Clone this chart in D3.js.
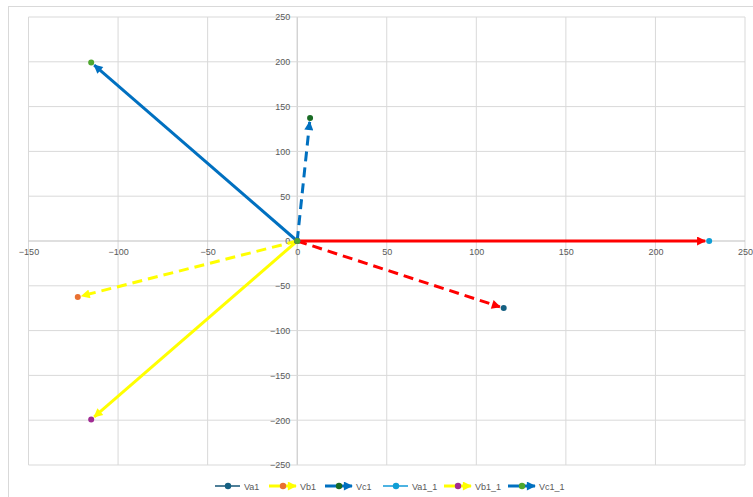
<!DOCTYPE html>
<html>
<head>
<meta charset="utf-8">
<script src="https://cdn.jsdelivr.net/npm/d3@7"></script>
<style>
  html, body { margin: 0; padding: 0; background: #fff; }
  svg { display: block; font-family: "Liberation Sans", Arial, sans-serif; }
</style>
</head>
<body>
<svg id="chart" width="753" height="497"></svg>
<script>
// Phasor series: each runs from the origin to its tip
const seriesNames = ["Va1", "Vb1", "Vc1", "Va1_1", "Vb1_1", "Vc1_1"];
const tipX = [115.3, -122.5, 7.2, 230, -115, -115];
const tipY = [-74.9, -62.4, 137.3, 0, -199.2, 199.2];
const xTicks = [-150, -100, -50, 0, 50, 100, 150, 200, 250];
const yTicks = [-250, -200, -150, -100, -50, 0, 50, 100, 150, 200, 250];

// Styling per series
const lineColors = ["#ff0000", "#ffff00", "#0070c0", "#ff0000", "#ffff00", "#0070c0"];
const legendLineColors = ["#4f7f98", "#ffff00", "#0070c0", "#4db3e2", "#ffff00", "#0070c0"];
const markerColors = ["#156082", "#e97132", "#196b24", "#0f9ed5", "#a02b93", "#4ea72e"];
const dashed = [true, true, true, false, false, false];
const hasArrow = [true, true, true, true, true, true];
const legendArrow = [false, true, true, false, true, true];

const svg = d3.select("#chart");

// Outer chart frame
svg.append("rect").attr("x", 8.5).attr("y", 6.5).attr("width", 760).attr("height", 500)
  .attr("fill", "#fff").attr("stroke", "#d9d9d9");

const x = d3.scaleLinear().domain([-150, 250]).range([28.5, 745]);
const y = d3.scaleLinear().domain([-250, 250]).range([465, 17]);

// Gridlines
const grid = svg.append("g");
grid.selectAll("line.v").data(xTicks).join("line")
  .attr("x1", d => x(d)).attr("x2", d => x(d))
  .attr("y1", y(250)).attr("y2", y(-250))
  .attr("stroke", d => d === 0 ? "#bfbfbf" : "#d9d9d9").attr("stroke-width", 1);
grid.selectAll("line.h").data(yTicks).join("line")
  .attr("x1", x(-150)).attr("x2", x(250))
  .attr("y1", d => y(d)).attr("y2", d => y(d))
  .attr("stroke", d => d === 0 ? "#bfbfbf" : "#d9d9d9").attr("stroke-width", 1);

// Axes crossing at the origin
const xAxis = d3.axisBottom(x).tickValues(xTicks).tickSize(0).tickPadding(8);
const yAxis = d3.axisLeft(y).tickValues(yTicks).tickSize(0).tickPadding(7);
const gx = svg.append("g").attr("transform", `translate(0,${y(0)})`).call(xAxis);
const gy = svg.append("g").attr("transform", `translate(${x(0)},0)`).call(yAxis);
[gx, gy].forEach(g => {
  g.select(".domain").remove();
  g.selectAll("text").attr("fill", "#595959").style("font-size", "9px")
    .style("font-family", "'Liberation Sans', Arial, sans-serif");
});

// Arrowhead markers, one per colour
const defs = svg.append("defs");
const arrowColors = Array.from(new Set(lineColors.concat(legendLineColors)));
arrowColors.forEach(c => {
  defs.append("marker")
    .attr("id", "arr" + c.slice(1))
    .attr("viewBox", "0 0 10 10").attr("refX", 9).attr("refY", 5)
    .attr("markerWidth", 10).attr("markerHeight", 9)
    .attr("markerUnits", "userSpaceOnUse").attr("orient", "auto")
    .append("path").attr("d", "M0,0 L10,5 L0,10 Z").attr("fill", c);
});

// Series lines (arrow tip stops just short of the end marker)
const plot = svg.append("g");
seriesNames.forEach((name, i) => {
  const x0 = x(0), y0 = y(0), x1 = x(tipX[i]), y1 = y(tipY[i]);
  const len = Math.hypot(x1 - x0, y1 - y0);
  const k = (len - 4) / len;
  plot.append("line")
    .attr("x1", x0).attr("y1", y0)
    .attr("x2", x0 + (x1 - x0) * k).attr("y2", y0 + (y1 - y0) * k)
    .attr("stroke", lineColors[i]).attr("stroke-width", 3)
    .attr("stroke-dasharray", dashed[i] ? "10,6" : null)
    .attr("marker-end", hasArrow[i] ? `url(#arr${lineColors[i].slice(1)})` : null);
});
// Point markers at both ends of each series
seriesNames.forEach((name, i) => {
  plot.selectAll(null).data([[0, 0], [tipX[i], tipY[i]]]).join("circle")
    .attr("cx", d => x(d[0])).attr("cy", d => y(d[1])).attr("r", 3)
    .attr("fill", markerColors[i]);
});

// Legend
const legendX = [215, 269, 325, 383, 444, 508];
const legend = svg.append("g").attr("transform", "translate(0,486)");
seriesNames.forEach((name, i) => {
  const g = legend.append("g").attr("transform", `translate(${legendX[i]},0)`);
  g.append("line").attr("x1", 0).attr("x2", legendArrow[i] ? 27 : 25).attr("y1", 0).attr("y2", 0)
    .attr("stroke", legendLineColors[i]).attr("stroke-width", legendArrow[i] ? 3 : 2)
    .attr("marker-end", legendArrow[i] ? `url(#arr${legendLineColors[i].slice(1)})` : null);
  g.append("circle").attr("cx", legendArrow[i] ? 14 : 13).attr("cy", 0).attr("r", 3.2)
    .attr("fill", markerColors[i]);
  g.append("text").attr("x", legendArrow[i] ? 31 : 29).attr("y", 3.5).text(name)
    .attr("fill", "#595959").style("font-size", "9px");
});
</script>
</body>
</html>
